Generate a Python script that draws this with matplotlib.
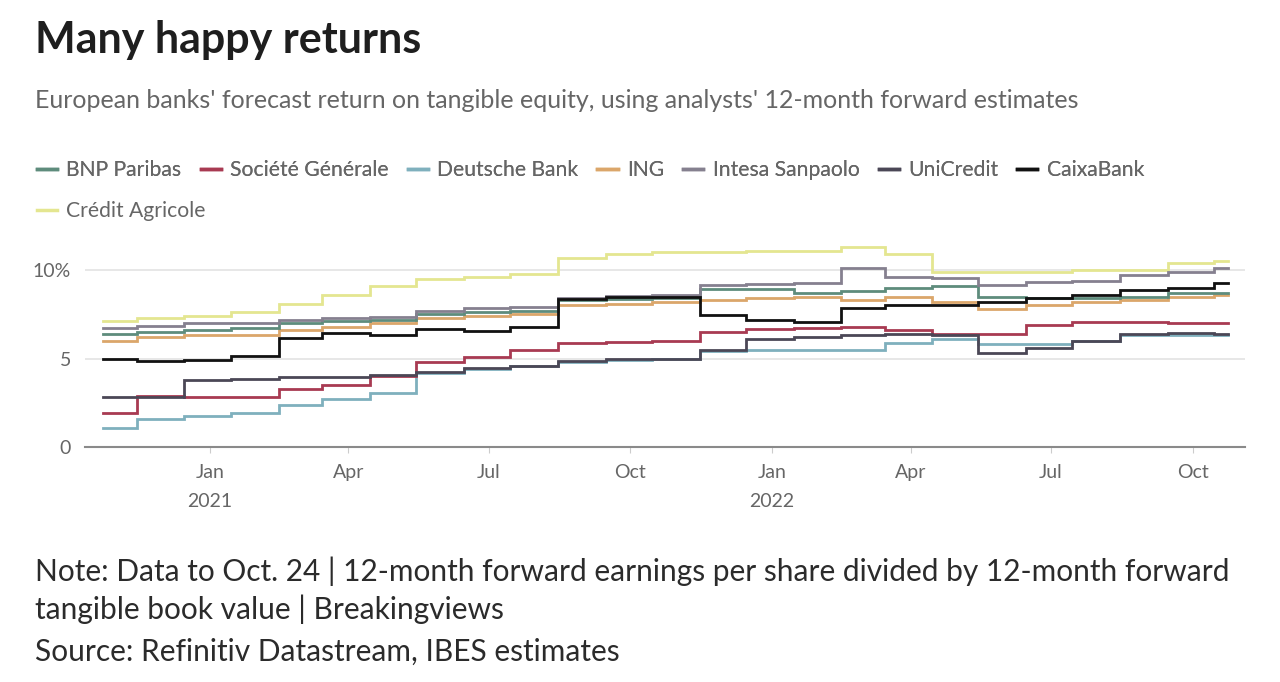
import pandas as pd
import matplotlib.pyplot as plt
from matplotlib.lines import Line2D

plt.rcParams['font.family'] = ['Lato', 'DejaVu Sans']

# step dates: start, then mid-month revisions, then last data point
start_date = '2020-10-24'
end_date = '2022-10-24'
step_dates = list(pd.date_range('2020-11-01', '2022-10-01', freq='MS') + pd.Timedelta(days=14))
dates = [pd.Timestamp(start_date)] + step_dates + [pd.Timestamp(end_date)]

banks = ['BNP Paribas', 'Société Générale', 'Deutsche Bank', 'ING',
         'Intesa Sanpaolo', 'UniCredit', 'CaixaBank', 'Crédit Agricole']

bnp = [6.4, 6.5, 6.6, 6.7, 7.0, 7.1, 7.2, 7.5, 7.6, 7.7, 8.3, 8.35, 8.4,
       8.9, 8.95, 8.7, 8.8, 9.0, 9.1, 8.5, 8.4, 8.4, 8.5, 8.7, 8.7]
socgen = [1.9, 2.9, 2.8, 2.85, 3.3, 3.5, 4.0, 4.8, 5.1, 5.5, 5.9, 5.95, 6.0,
          6.5, 6.65, 6.7, 6.8, 6.6, 6.4, 6.4, 6.9, 7.05, 7.05, 7.0, 7.0]
deutsche = [1.05, 1.6, 1.75, 1.9, 2.4, 2.7, 3.05, 4.2, 4.4, 4.55, 4.8, 4.9, 5.0,
            5.4, 5.5, 5.5, 5.5, 5.9, 6.1, 5.8, 5.8, 6.0, 6.3, 6.3, 6.3]
ing = [6.0, 6.2, 6.3, 6.3, 6.6, 6.8, 7.0, 7.3, 7.4, 7.5, 8.0, 8.1, 8.2,
       8.3, 8.4, 8.5, 8.3, 8.5, 8.2, 7.8, 8.0, 8.2, 8.3, 8.5, 8.6]
intesa = [6.7, 6.85, 7.0, 7.0, 7.2, 7.3, 7.35, 7.7, 7.85, 7.9, 8.4, 8.55, 8.6,
          9.15, 9.2, 9.25, 10.1, 9.6, 9.55, 9.15, 9.3, 9.4, 9.7, 9.9, 10.1]
unicredit = [2.8, 2.8, 3.8, 3.85, 3.95, 3.95, 4.05, 4.25, 4.45, 4.6, 4.85, 4.95, 5.0,
             5.5, 6.1, 6.2, 6.3, 6.4, 6.3, 5.3, 5.6, 6.0, 6.4, 6.45, 6.4]
caixa = [5.0, 4.85, 4.9, 5.15, 6.15, 6.45, 6.3, 6.65, 6.55, 6.8, 8.35, 8.5, 8.5,
         7.45, 7.2, 7.05, 7.85, 8.0, 8.0, 8.2, 8.4, 8.6, 8.85, 9.0, 9.25]
agricole = [7.1, 7.3, 7.4, 7.6, 8.1, 8.6, 9.1, 9.5, 9.6, 9.8, 10.7, 10.9, 11.0,
            11.0, 11.1, 11.1, 11.3, 10.9, 9.9, 9.9, 9.9, 10.0, 10.0, 10.4, 10.5]

series = [bnp, socgen, deutsche, ing, intesa, unicredit, caixa, agricole]
colors = ['#5e8c7c', '#a83a52', '#7fb0bd', '#dba66a',
          '#85808f', '#4b4756', '#111111', '#e4e690']

fig = plt.figure(figsize=(12.8, 6.82), dpi=100)
fig.patch.set_facecolor('white')

ax = fig.add_axes([85 / 1280, 235 / 682, 1160 / 1280, 212.4 / 682])

# draw light ones first so the dark ones sit on top
order = [7, 3, 2, 0, 1, 4, 5, 6]
for i in order:
    vals = series[i] + [series[i][-1]]
    ax.plot(dates, vals, drawstyle='steps-post', color=colors[i], lw=2.0,
            solid_joinstyle='miter')

ax.set_xlim(pd.Timestamp('2020-10-12'), pd.Timestamp('2022-11-04'))
ax.set_ylim(0, 12)
ax.set_yticks([0, 5, 10])
ax.set_yticklabels(['0', '5', '10%'])
ax.grid(axis='y', color='#e3e3e3', lw=1.2)
ax.set_axisbelow(True)
for s in ['top', 'right', 'left']:
    ax.spines[s].set_visible(False)
ax.spines['bottom'].set_color('#8a8a8a')
ax.spines['bottom'].set_linewidth(1.5)

tick_dates = pd.date_range('2021-01-01', '2022-10-01', freq='QS')
tick_labels = []
for d in tick_dates:
    if d.month == 1:
        tick_labels.append(d.strftime('%b') + '\n' + str(d.year))
    else:
        tick_labels.append(d.strftime('%b'))
ax.set_xticks(tick_dates)
ax.set_xticklabels(tick_labels, linespacing=1.9)
ax.tick_params(axis='x', length=4, color='#cccccc', labelsize=14,
               labelcolor='#666666', pad=8)
ax.tick_params(axis='y', length=0, labelsize=14, labelcolor='#666666', pad=10)

fig.text(35 / 1280, 1 - 40 / 682, 'Many happy returns', fontsize=31,
         fontweight='bold', color='#1e1e1e', va='center')
fig.text(35 / 1280, 1 - 101 / 682,
         "European banks' forecast return on tangible equity, using analysts' 12-month forward estimates",
         fontsize=18, color='#666666', va='center')

handles = [Line2D([], [], color=c, lw=2.5) for c in colors]
leg1 = fig.legend(handles[:7], banks[:7], ncol=7, loc='center left',
                  bbox_to_anchor=(0.014, 1 - 170 / 682), frameon=False,
                  fontsize=15.2, handlelength=0.95, handletextpad=0.45,
                  columnspacing=0.9, labelcolor='#666666')
fig.add_artist(leg1)
fig.legend(handles[7:], banks[7:], loc='center left',
           bbox_to_anchor=(0.014, 1 - 211 / 682), frameon=False,
           fontsize=15.2, handlelength=0.95, handletextpad=0.45,
           labelcolor='#666666')

fig.text(35 / 1280, 1 - 571 / 682,
         'Note: Data to Oct. 24 | 12-month forward earnings per share divided by 12-month forward',
         fontsize=21.5, color='#2b2b2b', va='center')
fig.text(35 / 1280, 1 - 609 / 682,
         'tangible book value | Breakingviews',
         fontsize=21.5, color='#2b2b2b', va='center')
fig.text(35 / 1280, 1 - 652 / 682,
         'Source: Refinitiv Datastream, IBES estimates',
         fontsize=21.5, color='#2b2b2b', va='center')

fig.savefig('out.png', dpi=100)
